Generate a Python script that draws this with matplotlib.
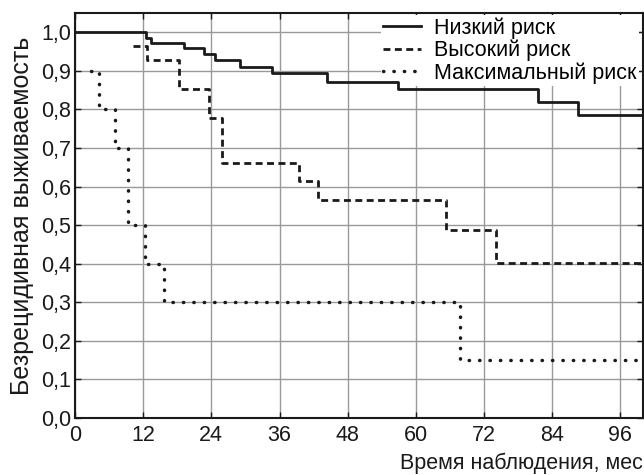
import matplotlib.pyplot as plt
from matplotlib.ticker import FuncFormatter

plt.rcParams['font.family'] = ['Liberation Sans', 'DejaVu Sans']

# Кривые Каплана-Мейера (месяцы, доля без рецидива)
low_t = [0, 12.5, 13.3, 19.1, 22.7, 24.6, 29.1, 34.6, 44.3, 56.9, 81.5, 88.6, 100]
low_s = [1.0, 0.986, 0.972, 0.958, 0.943, 0.927, 0.911, 0.895, 0.870, 0.852, 0.819, 0.785, 0.785]

high_t = [10.2, 12.6, 18.3, 23.5, 25.8, 39.4, 42.8, 65.3, 74.1, 100]
high_s = [0.965, 0.927, 0.852, 0.777, 0.660, 0.615, 0.565, 0.487, 0.402, 0.402]

max_t = [2.9, 4.3, 7.0, 9.3, 12.4, 15.7, 67.8, 100]
max_s = [0.90, 0.80, 0.70, 0.50, 0.40, 0.30, 0.15, 0.15]

labels = ['Низкий риск', 'Высокий риск', 'Максимальный риск']
x_ticks = [0, 12, 24, 36, 48, 60, 72, 84, 96]
y_ticks = [i / 10 for i in range(11)]

fig = plt.figure(figsize=(6.44, 4.75), dpi=100)
ax = fig.add_axes([0.1165, 0.12, 0.882, 0.8526])

ax.plot(low_t, low_s, drawstyle='steps-post', color='#1a1a1a', lw=2.0,
        label=labels[0], zorder=3)
ax.plot(high_t, high_s, drawstyle='steps-post', color='#1a1a1a', lw=2.0,
        linestyle=(0, (2.5, 1.6)), label=labels[1], zorder=3)
ax.plot(max_t, max_s, drawstyle='steps-post', color='#1a1a1a', lw=2.5,
        linestyle=(0, (0.1, 2.9)), dash_capstyle='round', label=labels[2], zorder=3)

ax.set_xlim(0, 100)
ax.set_ylim(0, 1.05)
ax.set_xticks(x_ticks)
ax.set_yticks(y_ticks)
ax.yaxis.set_major_formatter(FuncFormatter(lambda v, p: f'{v:.1f}'.replace('.', ',')))
ax.grid(True, color='#999999', lw=1.0)
ax.set_axisbelow(True)
ax.tick_params(direction='in', length=4, width=1, top=True, right=True,
               labelsize=15.5, pad=3, colors='#1a1a1a')
ax.tick_params(axis='x', pad=5)
for s in ax.spines.values():
    s.set_linewidth(1.5)
    s.set_color('#1a1a1a')

ax.set_ylabel('Безрецидивная выживаемость', fontsize=18, labelpad=5, color='#1a1a1a')
ax.set_xlabel('Время наблюдения, мес', fontsize=15.5, loc='right', labelpad=5,
              color='#1a1a1a')

# белая подложка легенды закрывает сетку, но не сами кривые
leg = ax.legend(loc='upper right', bbox_to_anchor=(0.993, 0.995), fontsize=15.5,
                frameon=True, facecolor='white', edgecolor='none', framealpha=1,
                borderpad=0.1, labelspacing=0.05, handlelength=1.8,
                handletextpad=0.6, borderaxespad=0, fancybox=False)
leg.set_zorder(2)

fig.savefig('out.png', dpi=100)
